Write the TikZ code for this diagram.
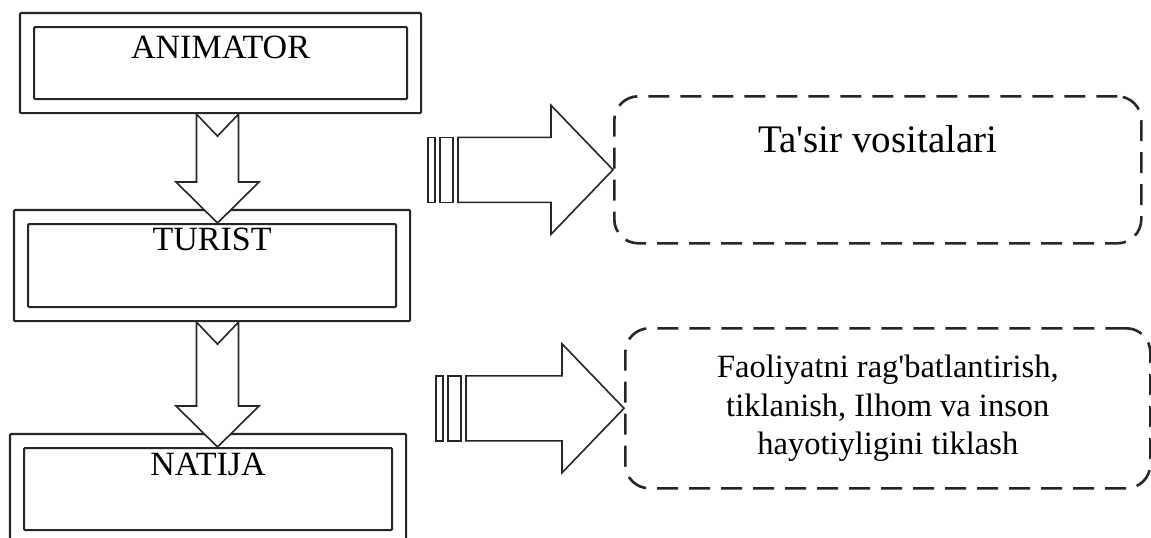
\documentclass[tikz,border=0pt]{standalone}
\usepackage{fontspec}
\setmainfont{Liberation Serif}
\usetikzlibrary{calc,fit}
\definecolor{Line}{HTML}{262626}

\tikzset{
  innerbox/.style={draw=Line,line width=2.1pt,inner sep=0pt,rounded corners=1pt,anchor=north west,font=\fontsize{34}{40}\selectfont},
  outerbox/.style={draw=Line,line width=2.1pt,inner sep=13pt,rounded corners=1pt},
  dashbox/.style={draw=Line,line width=2.6pt,dash pattern=on 21pt off 11pt,rounded corners=24pt,inner sep=0pt,anchor=north west},
  blockarrow/.style={draw=Line,line width=1.6pt,fill=white,line join=miter},
  stripe/.style={draw=Line,line width=1.6pt,fill=white},
}

\begin{document}
\begin{tikzpicture}[x=1pt,y=-1pt]
  \clip (0,0) rectangle (1151,538);
  \fill[white] (0,0) rectangle (1151,538);

  % left column
  \node[innerbox,minimum width=373pt,text height=31pt,text depth=41pt] (animatorIn) at (33,26) {ANIMATOR};
  \node[innerbox,minimum width=368pt,text height=26pt,text depth=57pt] (turistIn) at (27,223) {TURIST};
  \node[innerbox,minimum width=368pt,text height=27pt,text depth=55pt] (natijaIn) at (23,447) {NATIJA};
  \node[outerbox,fit=(animatorIn)] (animatorOut) {};
  \node[outerbox,fit=(turistIn)] (turistOut) {};
  \node[outerbox,fit=(natijaIn)] (natijaOut) {};

  % right column
  \node[dashbox,minimum width=527pt,text height=56pt,text depth=91pt,font=\fontsize{39}{46}\selectfont] (tasir) at (613,95) {Ta\textquotesingle sir vositalari};
  \node[dashbox,minimum width=525pt,minimum height=160pt,align=center,font=\fontsize{32.5}{38.5}\selectfont] (faol) at (624,327)
    {Faoliyatni rag\textquotesingle batlantirish,\\tiklanish, Ilhom va inson\\hayotiyligini tiklash};

  % down arrows
  \coordinate (spine) at (217.5,0);
  \foreach \from/\to in {animatorOut/turistIn, turistOut/natijaIn}
    \draw[blockarrow] ($(spine |- \from.south)+(-21,0)$) -- ++(21,22) -- ++(21,-22)
      -- ($(spine |- \to.north)+(21,-41)$) -- ++(20.5,0) -- (spine |- \to.north)
      -- ++(-41.5,-41) -- ++(20.5,0) -- cycle;

  % right arrows
  \foreach \tgt/\len in {tasir/155, faol/158} {
    \path (\tgt.west) ++(-\len,0) coordinate (\tgt Tail);
    \draw[blockarrow] ($(\tgt Tail)+(0,-32.5)$) -- ($(\tgt.west)+(-62,-32.5)$) -- ++(0,-32)
      -- (\tgt.west) -- ++(-62,64.5) -- ++(0,-32) -- ($(\tgt Tail)+(0,32.5)$) -- cycle;
    \draw[stripe] ($(\tgt Tail)+(-30,-32.5)$) rectangle ($(\tgt Tail)+(-23,32.5)$);
    \draw[stripe] ($(\tgt Tail)+(-18,-32.5)$) rectangle ($(\tgt Tail)+(-5,32.5)$);
  }
\end{tikzpicture}
\end{document}
